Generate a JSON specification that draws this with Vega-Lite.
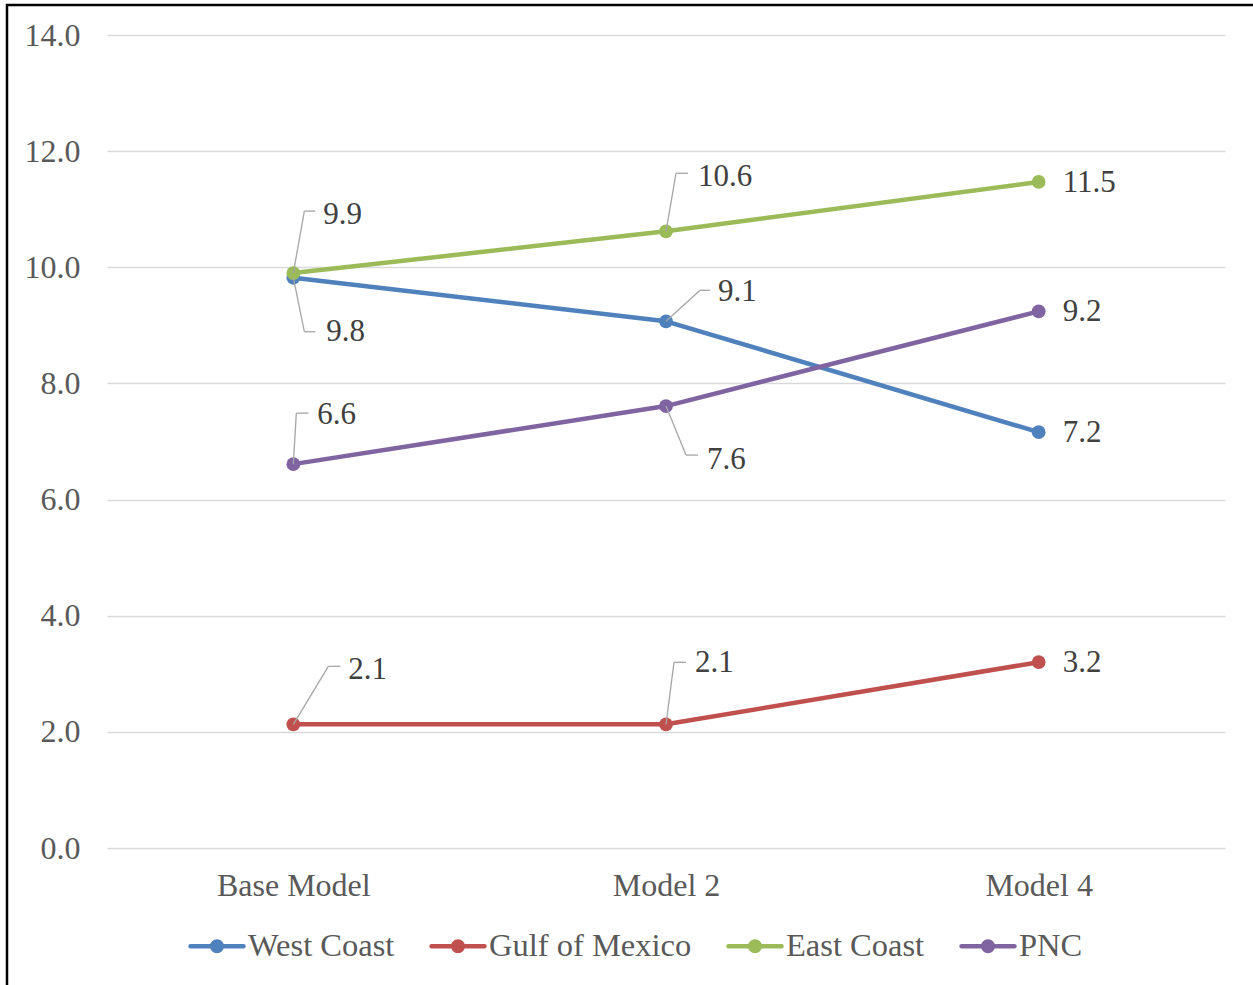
{
  "$schema": "https://vega.github.io/schema/vega-lite/v6.json",
  "autosize": {"type": "none"},
  "padding": {"left": 7, "top": 5, "right": -10, "bottom": -10},
  "width": 1256,
  "height": 990,
  "background": "white",
  "config": {
    "view": {"stroke": "black", "strokeWidth": 2.5},
    "font": "Liberation Serif"
  },
  "data": {
    "values": [
      {"model": "Base Model", "series": "West Coast", "value": 9.82},
      {"model": "Model 2", "series": "West Coast", "value": 9.07},
      {"model": "Model 4", "series": "West Coast", "value": 7.16},
      {"model": "Base Model", "series": "Gulf of Mexico", "value": 2.13},
      {"model": "Model 2", "series": "Gulf of Mexico", "value": 2.13},
      {"model": "Model 4", "series": "Gulf of Mexico", "value": 3.2},
      {"model": "Base Model", "series": "East Coast", "value": 9.9},
      {"model": "Model 2", "series": "East Coast", "value": 10.62},
      {"model": "Model 4", "series": "East Coast", "value": 11.47},
      {"model": "Base Model", "series": "PNC", "value": 6.61},
      {"model": "Model 2", "series": "PNC", "value": 7.61},
      {"model": "Model 4", "series": "PNC", "value": 9.24}
    ]
  },
  "encoding": {
    "x": {
      "field": "model",
      "type": "nominal",
      "sort": ["Base Model", "Model 2", "Model 4"],
      "scale": {"type": "point", "range": [100, 1218], "padding": 0.5},
      "axis": {
        "orient": "bottom",
        "offset": -147,
        "domain": false,
        "ticks": false,
        "tickSize": 0,
        "grid": false,
        "labelPadding": 22,
        "labelAngle": 0,
        "labelFont": "Liberation Serif",
        "labelFontSize": 32,
        "labelColor": "#595959",
        "title": null
      }
    },
    "y": {
      "field": "value",
      "type": "quantitative",
      "scale": {"domain": [0, 14], "range": [843, 30], "nice": false},
      "axis": {
        "orient": "left",
        "offset": -100,
        "values": [0, 2, 4, 6, 8, 10, 12, 14],
        "format": ".1f",
        "domain": false,
        "grid": false,
        "ticks": true,
        "tickSize": -1118,
        "tickColor": "#d9d9d9",
        "tickWidth": 1.5,
        "labelPadding": 1145,
        "labelAlign": "right",
        "labelBaseline": "middle",
        "labelBound": false,
        "labelOverlap": false,
        "labelFont": "Liberation Serif",
        "labelFontSize": 32,
        "labelColor": "#595959",
        "title": null
      }
    }
  },
  "layer": [
    {
      "mark": {"type": "line", "strokeWidth": 4.5, "strokeCap": "round", "strokeJoin": "round"},
      "encoding": {
        "color": {
          "field": "series",
          "type": "nominal",
          "scale": {
            "domain": ["West Coast", "Gulf of Mexico", "East Coast", "PNC"],
            "range": ["#4f81bd", "#c0504d", "#9bbb59", "#8064a2"]
          },
          "legend": {
            "orient": "none",
            "legendX": 181,
            "legendY": 912,
            "direction": "horizontal",
            "title": null,
            "padding": 0,
            "symbolType": "M-1,0L1,0M-0.18,0A0.18,0.18,0,1,1,0.18,0A0.18,0.18,0,1,1,-0.18,0Z",
            "symbolSize": 2809,
            "symbolStrokeWidth": 4.5,
            "labelFont": "Liberation Serif",
            "labelFontSize": 32.5,
            "labelColor": "#595959",
            "labelOffset": 2,
            "columnPadding": 27,
            "labelLimit": 400,
            "encode": {
              "symbols": {
                "update": {
                  "fill": {"scale": "color", "field": "value"},
                  "stroke": {"scale": "color", "field": "value"},
                  "strokeWidth": {"value": 4.5},
                  "strokeCap": {"value": "round"},
                  "opacity": {"value": 1}
                }
              }
            }
          }
        }
      }
    },
    {
      "mark": {"type": "point", "filled": true, "size": 190, "opacity": 1},
      "encoding": {
        "color": {"field": "series", "type": "nominal", "legend": null}
      }
    },
    {
      "transform": [{"filter": "datum.model === 'Model 4'"}],
      "mark": {"type": "text", "align": "left", "baseline": "middle", "dx": 24, "dy": 1, "fontSize": 31, "font": "Liberation Serif", "color": "#404040"},
      "encoding": {"text": {"field": "value", "type": "quantitative", "format": ".1f"}}
    },
    {
      "transform": [{"filter": "datum.series === 'East Coast' && datum.model === 'Base Model'"}],
      "layer": [
        {"mark": {"type": "rule", "color": "#a6a6a6", "strokeWidth": 1.3, "x2Offset": 11, "y2Offset": -62}, "encoding": {"x2": {"field": "model"}, "y2": {"field": "value"}}},
        {"mark": {"type": "rule", "color": "#a6a6a6", "strokeWidth": 1.3, "xOffset": 11, "yOffset": -62, "x2Offset": 22, "y2Offset": -62}, "encoding": {"x2": {"field": "model"}, "y2": {"field": "value"}}},
        {"mark": {"type": "text", "align": "left", "baseline": "middle", "dx": 30, "dy": -58, "fontSize": 31, "font": "Liberation Serif", "color": "#404040"}, "encoding": {"text": {"field": "value", "type": "quantitative", "format": ".1f"}}}
      ]
    },
    {
      "transform": [{"filter": "datum.series === 'West Coast' && datum.model === 'Base Model'"}],
      "layer": [
        {"mark": {"type": "rule", "color": "#a6a6a6", "strokeWidth": 1.3, "x2Offset": 11, "y2Offset": 54}, "encoding": {"x2": {"field": "model"}, "y2": {"field": "value"}}},
        {"mark": {"type": "rule", "color": "#a6a6a6", "strokeWidth": 1.3, "xOffset": 11, "yOffset": 54, "x2Offset": 22, "y2Offset": 54}, "encoding": {"x2": {"field": "model"}, "y2": {"field": "value"}}},
        {"mark": {"type": "text", "align": "left", "baseline": "middle", "dx": 33, "dy": 54, "fontSize": 31, "font": "Liberation Serif", "color": "#404040"}, "encoding": {"text": {"field": "value", "type": "quantitative", "format": ".1f"}}}
      ]
    },
    {
      "transform": [{"filter": "datum.series === 'PNC' && datum.model === 'Base Model'"}],
      "layer": [
        {"mark": {"type": "rule", "color": "#a6a6a6", "strokeWidth": 1.3, "x2Offset": 3, "y2Offset": -51}, "encoding": {"x2": {"field": "model"}, "y2": {"field": "value"}}},
        {"mark": {"type": "rule", "color": "#a6a6a6", "strokeWidth": 1.3, "xOffset": 3, "yOffset": -51, "x2Offset": 15, "y2Offset": -51}, "encoding": {"x2": {"field": "model"}, "y2": {"field": "value"}}},
        {"mark": {"type": "text", "align": "left", "baseline": "middle", "dx": 24, "dy": -49, "fontSize": 31, "font": "Liberation Serif", "color": "#404040"}, "encoding": {"text": {"field": "value", "type": "quantitative", "format": ".1f"}}}
      ]
    },
    {
      "transform": [{"filter": "datum.series === 'Gulf of Mexico' && datum.model === 'Base Model'"}],
      "layer": [
        {"mark": {"type": "rule", "color": "#a6a6a6", "strokeWidth": 1.3, "x2Offset": 35, "y2Offset": -58}, "encoding": {"x2": {"field": "model"}, "y2": {"field": "value"}}},
        {"mark": {"type": "rule", "color": "#a6a6a6", "strokeWidth": 1.3, "xOffset": 35, "yOffset": -58, "x2Offset": 47, "y2Offset": -58}, "encoding": {"x2": {"field": "model"}, "y2": {"field": "value"}}},
        {"mark": {"type": "text", "align": "left", "baseline": "middle", "dx": 55, "dy": -54, "fontSize": 31, "font": "Liberation Serif", "color": "#404040"}, "encoding": {"text": {"field": "value", "type": "quantitative", "format": ".1f"}}}
      ]
    },
    {
      "transform": [{"filter": "datum.series === 'East Coast' && datum.model === 'Model 2'"}],
      "layer": [
        {"mark": {"type": "rule", "color": "#a6a6a6", "strokeWidth": 1.3, "x2Offset": 10, "y2Offset": -58}, "encoding": {"x2": {"field": "model"}, "y2": {"field": "value"}}},
        {"mark": {"type": "rule", "color": "#a6a6a6", "strokeWidth": 1.3, "xOffset": 10, "yOffset": -58, "x2Offset": 22, "y2Offset": -58}, "encoding": {"x2": {"field": "model"}, "y2": {"field": "value"}}},
        {"mark": {"type": "text", "align": "left", "baseline": "middle", "dx": 32, "dy": -54, "fontSize": 31, "font": "Liberation Serif", "color": "#404040"}, "encoding": {"text": {"field": "value", "type": "quantitative", "format": ".1f"}}}
      ]
    },
    {
      "transform": [{"filter": "datum.series === 'West Coast' && datum.model === 'Model 2'"}],
      "layer": [
        {"mark": {"type": "rule", "color": "#a6a6a6", "strokeWidth": 1.3, "x2Offset": 34, "y2Offset": -31}, "encoding": {"x2": {"field": "model"}, "y2": {"field": "value"}}},
        {"mark": {"type": "rule", "color": "#a6a6a6", "strokeWidth": 1.3, "xOffset": 34, "yOffset": -31, "x2Offset": 44, "y2Offset": -31}, "encoding": {"x2": {"field": "model"}, "y2": {"field": "value"}}},
        {"mark": {"type": "text", "align": "left", "baseline": "middle", "dx": 52, "dy": -29, "fontSize": 31, "font": "Liberation Serif", "color": "#404040"}, "encoding": {"text": {"field": "value", "type": "quantitative", "format": ".1f"}}}
      ]
    },
    {
      "transform": [{"filter": "datum.series === 'PNC' && datum.model === 'Model 2'"}],
      "layer": [
        {"mark": {"type": "rule", "color": "#a6a6a6", "strokeWidth": 1.3, "x2Offset": 20, "y2Offset": 49}, "encoding": {"x2": {"field": "model"}, "y2": {"field": "value"}}},
        {"mark": {"type": "rule", "color": "#a6a6a6", "strokeWidth": 1.3, "xOffset": 20, "yOffset": 49, "x2Offset": 32, "y2Offset": 49}, "encoding": {"x2": {"field": "model"}, "y2": {"field": "value"}}},
        {"mark": {"type": "text", "align": "left", "baseline": "middle", "dx": 41, "dy": 54, "fontSize": 31, "font": "Liberation Serif", "color": "#404040"}, "encoding": {"text": {"field": "value", "type": "quantitative", "format": ".1f"}}}
      ]
    },
    {
      "transform": [{"filter": "datum.series === 'Gulf of Mexico' && datum.model === 'Model 2'"}],
      "layer": [
        {"mark": {"type": "rule", "color": "#a6a6a6", "strokeWidth": 1.3, "x2Offset": 8, "y2Offset": -62}, "encoding": {"x2": {"field": "model"}, "y2": {"field": "value"}}},
        {"mark": {"type": "rule", "color": "#a6a6a6", "strokeWidth": 1.3, "xOffset": 8, "yOffset": -62, "x2Offset": 20, "y2Offset": -62}, "encoding": {"x2": {"field": "model"}, "y2": {"field": "value"}}},
        {"mark": {"type": "text", "align": "left", "baseline": "middle", "dx": 29, "dy": -61, "fontSize": 31, "font": "Liberation Serif", "color": "#404040"}, "encoding": {"text": {"field": "value", "type": "quantitative", "format": ".1f"}}}
      ]
    }
  ]
}
